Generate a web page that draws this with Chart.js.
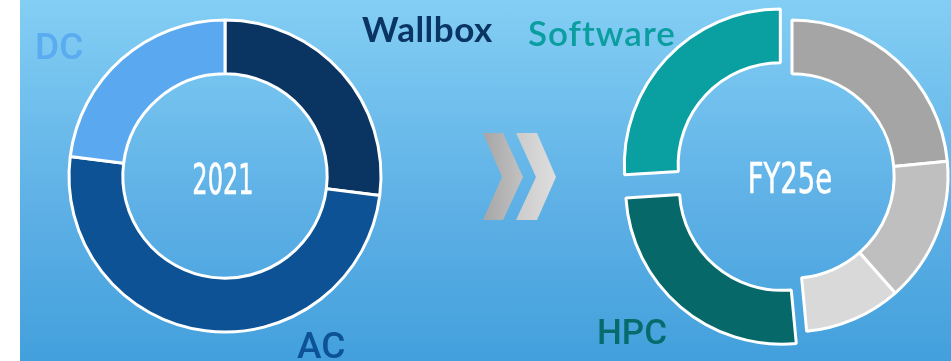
<!DOCTYPE html>
<html>
<head>
<meta charset="utf-8">
<script src="https://cdn.jsdelivr.net/npm/chart.js@4.4.1/dist/chart.umd.min.js"></script>
<style>
  html, body { margin: 0; padding: 0; width: 951px; height: 361px; overflow: hidden; background: #fff; }
  .bg { position: absolute; left: 20px; top: 0; width: 931px; height: 361px;
        background: linear-gradient(to bottom, #83cef4 0%, #5fb1e6 55%, #43a0dc 100%); }
  .donut { position: absolute; width: 352px; height: 352px; }
  .lbl { position: absolute; line-height: 1; white-space: nowrap; }
  .name { font-family: Lato, sans-serif; font-size: 35px; }
  .seg { font-family: Roboto, sans-serif; font-size: 37px; font-weight: 500; }
  .year { font-family: "DejaVu Sans", sans-serif; font-size: 43px; color: #fff;
          -webkit-text-stroke: 0.6px #fff; width: 200px; text-align: center; }
  .chev { position: absolute; top: 133px; height: 87px; }
</style>
</head>
<body>
<div class="bg"></div>

<div class="chev" style="left:483px;width:40px;background:linear-gradient(to right,#a6a6a6,#c2c2c2);
  clip-path:polygon(0 0,20px 0,40px 44px,20px 87px,0 87px,19px 44px);"></div>
<div class="chev" style="left:516px;width:40px;background:linear-gradient(to right,#cbcbcb,#dedede);
  clip-path:polygon(0 0,21px 0,40px 44px,21px 87px,0 87px,20px 44px);"></div>

<div class="donut" style="left:49px;top:0px;"><canvas id="left"></canvas></div>
<div class="donut" style="left:616px;top:0px;"><canvas id="right"></canvas></div>

<div class="lbl year" style="left:123px;top:158px;transform:scaleX(0.56);">2021</div>
<div class="lbl year" style="left:690px;top:157px;transform:scaleX(0.64);">FY25e</div>

<div class="lbl name" style="left:362px;top:11px;color:#0a3461;font-weight:700;letter-spacing:0.5px;">Wallbox</div>
<div class="lbl name" style="left:528px;top:15px;color:#0a9ea0;font-weight:600;letter-spacing:1px;">Software</div>
<div class="lbl seg" style="left:35px;top:28px;color:#5aabf0;">DC</div>
<div class="lbl seg" style="left:297px;top:327px;color:#0c5294;">AC</div>
<div class="lbl seg" style="left:597px;top:315px;color:#076b6b;font-size:35px;">HPC</div>

<script>
// 2021 mix (share of revenue, %)
const leftLabels = ['Wallbox', 'AC', 'DC'];
const leftValues = [27, 50, 23];
const leftColors = ['#0a3461', '#0c5294', '#5aa8f0'];

// FY25e mix (share of revenue, %)
const rightLabels = ['Wallbox', 'AC', 'DC', 'HPC', 'Software'];
const rightValues = [23.5, 15, 10, 25.5, 26];
const rightColors = ['#a5a5a5', '#bfbfbf', '#d9d9d9', '#066868', '#0a9fa0'];

function donut(id, labels, values, colors, offsets) {
  return new Chart(document.getElementById(id), {
    type: 'doughnut',
    data: {
      labels: labels,
      datasets: [{
        data: values,
        backgroundColor: colors,
        borderColor: '#ffffff',
        borderWidth: 3,
        offset: offsets,
        radius: 156,
      }],
    },
    options: {
      responsive: true,
      maintainAspectRatio: false,
      animation: false,
      events: [],
      cutout: '65.5%',
      layout: { padding: 0 },
      plugins: {
        legend: { display: false },
        tooltip: { enabled: false },
      },
    },
  });
}

donut('left', leftLabels, leftValues, leftColors, 0);
// arc offset is drawn at a quarter of the value, so 64 pushes the teal slices ~16px out
donut('right', rightLabels, rightValues, rightColors, [0, 0, 0, 64, 64]);
</script>
</body>
</html>
